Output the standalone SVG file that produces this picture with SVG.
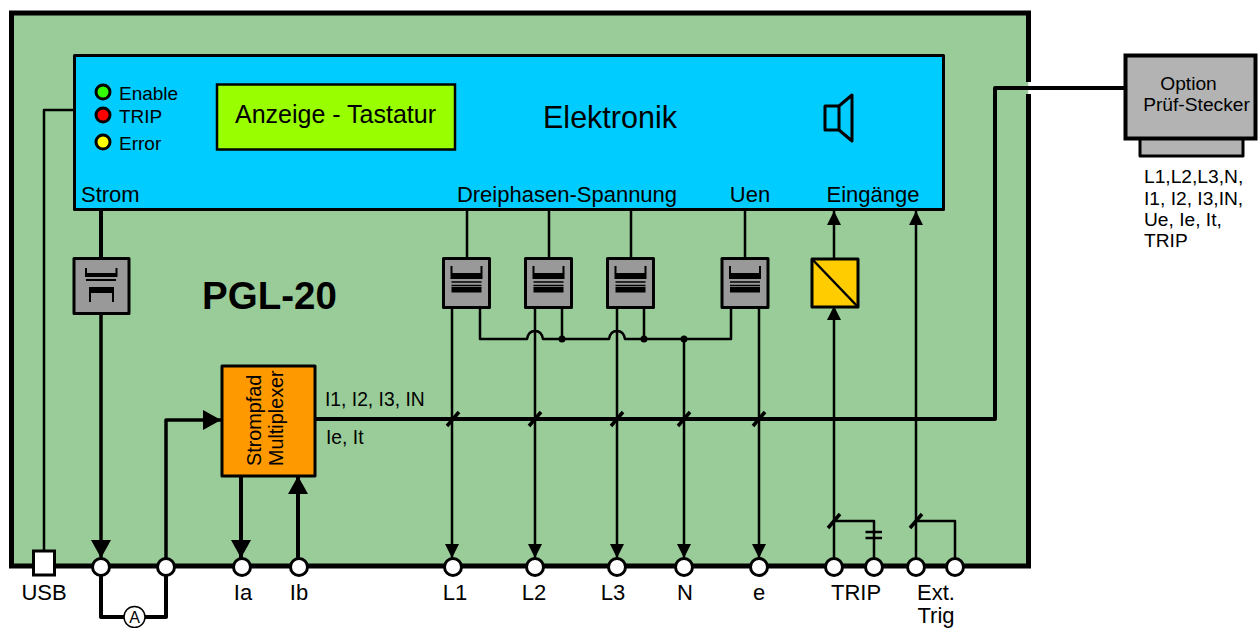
<svg xmlns="http://www.w3.org/2000/svg" width="1258" height="628" viewBox="0 0 1258 628">
<style>
text{font-family:"Liberation Sans",Arial,sans-serif;fill:#000;font-size:22px}
.m{text-anchor:middle}
.sm{font-size:19.300px}
.o{font-size:19.200px}
.box{stroke:#000;stroke-width:3;stroke-linejoin:round}
.t{fill:#999;stroke:#000;stroke-width:3;stroke-linejoin:round}
.w{fill:none;stroke:#000;stroke-width:2.500;stroke-linejoin:round}
.w3{fill:none;stroke:#000;stroke-width:3.500;stroke-linejoin:round}
.w4{fill:none;stroke:#000;stroke-width:4;stroke-linejoin:round}
.w2{fill:none;stroke:#000;stroke-width:2}
.p{fill:#fff;stroke:#000;stroke-width:3}
.led{stroke:#000;stroke-width:3}
</style>
<defs>
<marker id="ah" markerUnits="userSpaceOnUse" markerWidth="16" markerHeight="16" refX="14" refY="7" orient="auto"><path d="M0 0L14 7L0 14Z" fill="#000"/></marker>
<marker id="ahb" markerUnits="userSpaceOnUse" markerWidth="22" markerHeight="22" refX="18" refY="10" orient="auto"><path d="M0 0L18 10L0 20Z" fill="#000"/></marker>
<g id="tr-v">
<rect x="-23" y="-24" width="46" height="49" class="t"/>
<path d="M-15 -16.500V-3.500M15 -16.500V-3.500" class="w2"/>
<rect x="-15" y="-9.500" width="30" height="6"/>
<path d="M-15 -0.500H15M-15 3H15" fill="none" stroke="#000" stroke-width="1.500"/>
<rect x="-15" y="4.500" width="30" height="5.500"/>
</g>
</defs>
<g id="frame">
<rect x="11" y="13" width="1017.500" height="553" fill="#99cc99"/>
<path d="M1028.500 82V13H11.500V566H1028.500V94" fill="none" stroke="#000" stroke-width="5"/>
<rect x="1028.500" y="82" width="3" height="12" fill="#fff"/>
</g>
<g id="connectors">
<path d="M44 552V110H74" class="w"/>
<path d="M101 210V258" class="w4"/>
<path d="M101 314V558" class="w3" marker-end="url(#ahb)"/>
<path d="M101 574V617H166V574" class="w4"/>
<path d="M166 558V420H221" class="w3" marker-end="url(#ahb)"/>
<path d="M241 476V558" class="w4" marker-end="url(#ahb)"/>
<path d="M298 558V476" class="w4" marker-end="url(#ahb)"/>
<path d="M316 419H995V88H1125" class="w4"/>
<path d="M447 426L459 412M529 426L541 412M611 426L623 412M678 426L690 412M753 426L765 412" class="w3"/>
<path d="M467 210V258M549 210V258M631 210V258M745 210V258" class="w"/>
<path d="M452 292V558" class="w" marker-end="url(#ah)"/>
<path d="M535 292V558" class="w" marker-end="url(#ah)"/>
<path d="M617 292V558" class="w" marker-end="url(#ah)"/>
<path d="M759 292V558" class="w" marker-end="url(#ah)"/>
<path d="M684 339V558" class="w" marker-end="url(#ah)"/>
<path d="M480 292V339H527C528 333 531 331 535 331C539 331 542 333 543 339H609C610 333 613 331 617 331C621 331 624 333 625 339H731V292" class="w"/>
<path d="M562 292V339M644 292V339" class="w"/>
<circle cx="562" cy="339" r="3.500"/><circle cx="644" cy="339" r="3.500"/><circle cx="684" cy="339" r="3.500"/>
<path d="M834 558V306" class="w" marker-end="url(#ah)"/>
<path d="M834 258V211" class="w" marker-end="url(#ah)"/>
<path d="M916 558V211" class="w" marker-end="url(#ah)"/>
<path d="M828 528L840 514M910 528L922 514" class="w3"/>
<path d="M834 521H874V559M916 521H955V559" class="w"/>
<path d="M865.500 532H882M865.500 538H882" class="w"/>
</g>
<g id="elektronik">
<rect x="74.500" y="55.500" width="869" height="154" fill="#00ccff" class="box"/>
<text x="610" y="128" class="m" style="font-size:30.500px">Elektronik</text>
<text x="81" y="202">Strom</text>
<text x="567" y="202" class="m">Dreiphasen-Spannung</text>
<text x="750" y="202" class="m">Uen</text>
<text x="873" y="202" class="m">Eingänge</text>
<path d="M825 106H839V130H825ZM839 106L852 95V141L839 130" fill="none" stroke="#000" stroke-width="3" stroke-linejoin="round"/>
</g>
<g id="leds">
<circle cx="103" cy="92" r="7" fill="#33ff00" class="led"/>
<circle cx="103" cy="115" r="7" fill="#ff0000" class="led"/>
<circle cx="103" cy="142" r="7" fill="#ffff00" class="led"/>
<text x="119" y="100" style="font-size:19px">Enable</text>
<text x="119" y="123" style="font-size:19px">TRIP</text>
<text x="119" y="150" style="font-size:19px">Error</text>
</g>
<g id="anzeige">
<rect x="217" y="84.500" width="238" height="65" fill="#99ff00" stroke="#000" stroke-width="2.500"/>
<text x="335.500" y="123" class="m" style="font-size:25px">Anzeige - Tastatur</text>
</g>
<text x="202" y="309" style="font-size:38.500px;font-weight:bold">PGL-20</text>
<g id="t-strom">
<rect x="74" y="258.500" width="55" height="55" class="t"/>
<path d="M86 268V276H116.500V268" class="w2"/>
<rect x="86" y="273" width="31" height="4"/>
<path d="M86 280H116" class="w2" stroke-width="2.500"/>
<rect x="89" y="287" width="25" height="6"/>
<path d="M90 287V302M113 287V302" class="w2"/>
</g>
<use id="t-l1" href="#tr-v" x="466.500" y="282.500"/>
<use id="t-l2" href="#tr-v" x="548.500" y="282.500"/>
<use id="t-l3" href="#tr-v" x="630.500" y="282.500"/>
<use id="t-uen" href="#tr-v" x="745" y="282.500"/>
<g id="wandler">
<rect x="812" y="259" width="46" height="48" fill="#ffcc00" class="box"/>
<path d="M812 259L858 307" class="w"/>
</g>
<g id="mux">
<rect x="222" y="366" width="93" height="110" fill="#ff9900" class="box"/>
<text transform="translate(261 466) rotate(-90)" style="font-size:19.800px">Strompfad</text>
<text transform="translate(283 466) rotate(-90)" style="font-size:19.800px">Multiplexer</text>
</g>
<text x="325" y="406" class="sm">I1, I2, I3, IN</text>
<text x="326" y="444" class="sm">Ie, It</text>
<g id="option">
<rect x="1140" y="138" width="103" height="18" fill="#b3b3b3" class="box"/>
<rect x="1125.500" y="55.500" width="130" height="83" fill="#b3b3b3" stroke="#000" stroke-width="4"/>
<text x="1188.500" y="90" class="m o">Option</text>
<text x="1196.500" y="111" class="m o">Prüf-Stecker</text>
</g>
<g id="option-text">
<text x="1144" y="183" class="o">L1,L2,L3,N,</text>
<text x="1144" y="205" class="o">I1,  I2, I3,IN,</text>
<text x="1144" y="226" class="o">Ue, Ie, It,</text>
<text x="1144" y="247" class="o">TRIP</text>
</g>
<g id="ports">
<rect x="33.500" y="551" width="21" height="24" class="p"/>
<circle cx="101" cy="567" r="8.500" class="p"/>
<circle cx="166" cy="567" r="8.500" class="p"/>
<circle cx="242" cy="567" r="8.500" class="p"/>
<circle cx="299" cy="567" r="8.500" class="p"/>
<circle cx="453" cy="567" r="8.500" class="p"/>
<circle cx="535" cy="567" r="8.500" class="p"/>
<circle cx="617" cy="567" r="8.500" class="p"/>
<circle cx="684" cy="567" r="8.500" class="p"/>
<circle cx="759" cy="567" r="8.500" class="p"/>
<circle cx="834" cy="567" r="8.500" class="p"/>
<circle cx="874" cy="567" r="8.500" class="p"/>
<circle cx="916" cy="567" r="8.500" class="p"/>
<circle cx="955" cy="567" r="8.500" class="p"/>
<circle cx="134.500" cy="617" r="10.500" fill="#fff" stroke="#000" stroke-width="1.500"/>
<text x="134.500" y="622.500" class="m" style="font-size:16px">A</text>
</g>
<g id="labels">
<text x="44" y="600" class="m">USB</text>
<text x="243" y="600" class="m">Ia</text>
<text x="299" y="600" class="m">Ib</text>
<text x="455" y="600" class="m">L1</text>
<text x="534" y="600" class="m">L2</text>
<text x="613" y="600" class="m">L3</text>
<text x="685" y="600" class="m">N</text>
<text x="759" y="600" class="m">e</text>
<text x="856" y="600" class="m">TRIP</text>
<text x="936" y="600" class="m">Ext.</text>
<text x="936" y="623" class="m">Trig</text>
</g>
</svg>
